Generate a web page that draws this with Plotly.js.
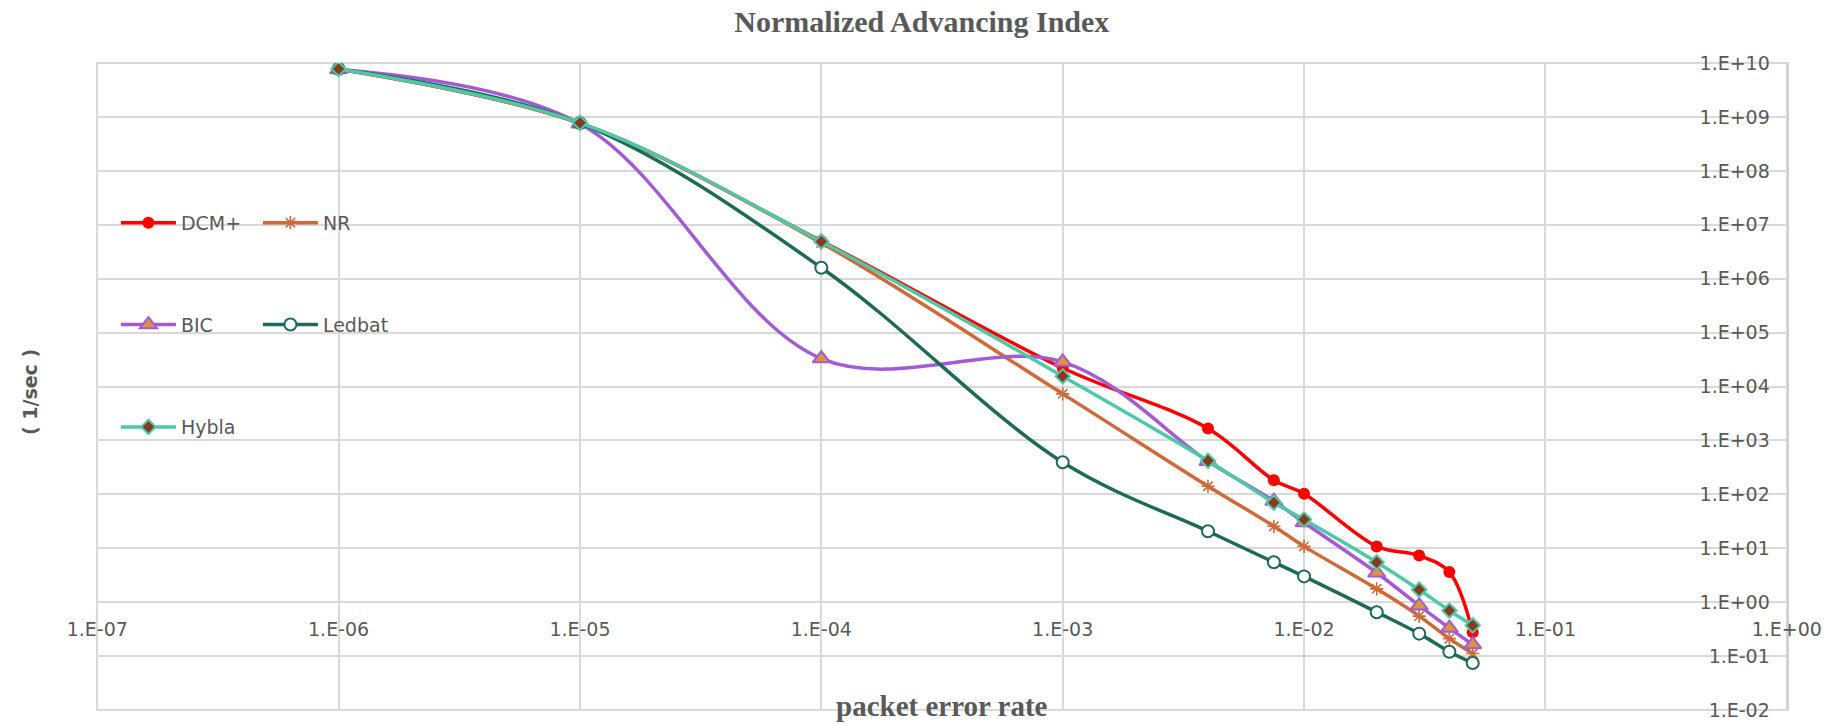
<!DOCTYPE html>
<html>
<head>
<meta charset="utf-8">
<script src="https://cdn.plot.ly/plotly-3.0.1.min.js"></script>
<style>
  html, body { margin: 0; padding: 0; background: #ffffff; }
  #chart { width: 1829px; height: 724px; }
</style>
</head>
<body>
<div id="chart"></div>
<script>
// Packet error rate (x) shared by every protocol
const errorRate = [1e-6, 1e-5, 1e-4, 1e-3, 4e-3, 7.5e-3, 1e-2, 2e-2, 3e-2, 4e-2, 5e-2];

// Normalized advancing index (1/sec) per protocol
const dcmPlus = [7.8e9, 7.7e8, 5.0e6, 2.2e4, 1.66e3, 182, 102, 10.8, 7.3, 3.6, 0.275];
const nr      = [7.7e9, 7.6e8, 4.6e6, 7.3e3, 141, 25.5, 10.8, 1.76, 0.55, 0.21, 0.111];
const bic     = [7.6e9, 7.5e8, 3.3e4, 2.86e4, 410, 75, 30, 3.5, 0.86, 0.33, 0.163];
const ledbat  = [7.8e9, 7.7e8, 1.6e6, 393, 20.6, 5.5, 3.0, 0.65, 0.26, 0.12, 0.074];
const hybla   = [7.8e9, 7.8e8, 4.9e6, 1.55e4, 420, 70, 34, 5.5, 1.7, 0.70, 0.37];

// Axis ticks
const xTickVals = [1e-7, 1e-6, 1e-5, 1e-4, 1e-3, 1e-2, 1e-1, 1e0];
const xTickText = ['1.E-07', '1.E-06', '1.E-05', '1.E-04', '1.E-03', '1.E-02', '1.E-01', '1.E+00'];
const yTickVals = [1e-2, 1e-1, 1e0, 1e1, 1e2, 1e3, 1e4, 1e5, 1e6, 1e7, 1e8, 1e9, 1e10];
const yTickText = ['1.E-02', '1.E-01', '1.E+00', '1.E+01', '1.E+02', '1.E+03', '1.E+04',
                   '1.E+05', '1.E+06', '1.E+07', '1.E+08', '1.E+09', '1.E+10'];

// Log ranges, padded a hair so the edge labels still draw
const yLogRange = [-2.002, 10.002];
const xLogRange = [-7.001, 0.001];

const TEXT = '#595959';
const GRID = '#d9d9d9';
const SANS = 'DejaVu Sans, sans-serif';
const SERIF = 'Liberation Serif, Times New Roman, serif';

function series(name, y, lineColor, marker, legendId) {
  return {
    type: 'scatter', mode: 'lines+markers', name: name,
    x: errorRate, y: y,
    line: { color: lineColor, width: 3.5, shape: 'spline', smoothing: 1 },
    marker: marker,
    legend: legendId,
    hoverinfo: 'skip'
  };
}

const traces = [
  series('DCM+', dcmPlus, '#ff0000',
    { symbol: 'circle', size: 12, color: '#ff0000', line: { width: 0 } }, 'legend'),
  series('NR', nr, '#d0693a',
    { symbol: 'asterisk-open', size: 11, color: '#d0693a', line: { color: '#d0693a', width: 1.6 } }, 'legend'),
  series('BIC', bic, '#a45ad4',
    { symbol: 'triangle-up', size: 15, color: '#d9973a', line: { color: '#a45ad4', width: 2 } }, 'legend2'),
  series('Ledbat', ledbat, '#1d6a55',
    { symbol: 'circle', size: 12, color: '#ffffff', line: { color: '#1d6a55', width: 2 } }, 'legend2'),
  series('Hybla', hybla, '#4ec9a8',
    { symbol: 'diamond', size: 11, color: '#8a3a1c', line: { color: '#4ec9a8', width: 2 } }, 'legend3')
];

function legendRow(yPaper) {
  return {
    x: 0.0112, xanchor: 'left', y: yPaper, yanchor: 'middle',
    orientation: 'h', bgcolor: 'rgba(0,0,0,0)', borderwidth: 0,
    itemwidth: 55, entrywidth: 72, entrywidthmode: 'pixels',
    font: { family: SANS, size: 19, color: TEXT },
    itemclick: false, itemdoubleclick: false
  };
}

const layout = {
  width: 1829, height: 724,
  paper_bgcolor: '#ffffff', plot_bgcolor: '#ffffff',
  margin: { l: 97, r: 42, t: 63, b: 14 },
  title: {
    text: '<b>Normalized Advancing Index</b>',
    font: { family: SERIF, size: 30, color: TEXT },
    x: 0.504, xref: 'container', xanchor: 'center',
    y: 0.97, yref: 'container', yanchor: 'middle'
  },
  xaxis: {
    type: 'log', range: xLogRange,
    anchor: 'free',
    position: (0 - yLogRange[0]) / (yLogRange[1] - yLogRange[0]),
    tickmode: 'array', tickvals: xTickVals, ticktext: xTickText,
    ticks: '', ticklabelstandoff: 14, ticklabeloverflow: 'allow',
    tickfont: { family: SANS, size: 19, color: TEXT },
    showgrid: true, gridcolor: GRID, gridwidth: 2,
    showline: false, zeroline: false
  },
  yaxis: {
    type: 'log', range: yLogRange,
    side: 'right', ticklabelposition: 'inside', ticklabeloverflow: 'allow',
    tickmode: 'array', tickvals: yTickVals, ticktext: yTickText,
    ticks: '', ticklabelstandoff: 18,
    tickfont: { family: SANS, size: 19, color: TEXT },
    showgrid: true, gridcolor: GRID, gridwidth: 2,
    showline: true, linecolor: '#cfcfcf', linewidth: 2,
    zeroline: false
  },
  // Frame around the plotting area
  shapes: [
    {
      type: 'rect', layer: 'below',
      xref: 'paper', yref: 'paper', x0: 0, x1: 1, y0: 0, y1: 1,
      line: { color: GRID, width: 2 }, fillcolor: 'rgba(0,0,0,0)'
    }
  ],
  legend: legendRow(0.753),
  legend2: legendRow(0.5955),
  legend3: legendRow(0.4373),
  annotations: [
    {
      text: '<b>packet error rate</b>', showarrow: false,
      xref: 'paper', x: 0.5, xanchor: 'center',
      yref: 'paper', y: 0, yanchor: 'middle', yshift: 4,
      font: { family: SERIF, size: 29, color: TEXT }
    },
    {
      text: '<b>( 1/sec )</b>', showarrow: false, textangle: -90,
      xref: 'paper', x: -0.04, xanchor: 'center',
      yref: 'paper', y: 0.492, yanchor: 'middle',
      font: { family: SANS, size: 19, color: TEXT }
    }
  ]
};

Plotly.newPlot('chart', traces, layout, { displayModeBar: false, staticPlot: true });
</script>
</body>
</html>
